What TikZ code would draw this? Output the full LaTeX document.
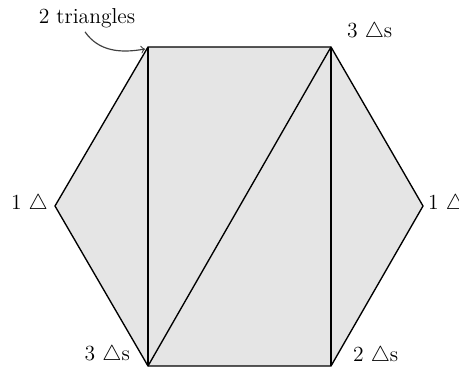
\documentclass[tikz,border=0pt]{standalone}
\begin{document}
\begin{tikzpicture}[x=0.556pt,y=-0.556pt,
  lbl/.style={inner sep=1pt, font=\large},
  edge/.style={draw=black, line width=0.75pt, line join=miter}]
\useasboundingbox (0,0) rectangle (459,373);
\coordinate (A) at (148,47);
\coordinate (B) at (331,47);
\coordinate (C) at (423,206);
\coordinate (D) at (331,366);
\coordinate (E) at (148,366);
\coordinate (F) at (55,206);
\fill[gray!20] (A) -- (B) -- (C) -- (D) -- (E) -- (F) -- cycle;
\draw[edge] (A) -- (B) -- (C) -- (D) -- (E) -- (F) -- cycle;
\draw[edge] (A) -- (E);
\draw[edge] (B) -- (E);
\draw[edge] (B) -- (D);
\node[lbl] (tl) at (87,18) {2 triangles};
\node[lbl, anchor=west] (tr) at (345,32) {3 $\triangle$s};
\node[lbl, anchor=east] (l) at (50,204) {1 $\triangle$};
\node[lbl, anchor=west] (r) at (426,204) {1 $\triangle$};
\node[lbl, anchor=east] (bl) at (132,355) {3 $\triangle$s};
\node[lbl, anchor=west] (br) at (351,356) {2 $\triangle$s};
\coordinate (tip) at (145,49);
\draw[->, gray!50!black, line width=0.65pt] (tl.south) ++(-2,2) to[out=-55, in=190] (tip);
\end{tikzpicture}
\end{document}
